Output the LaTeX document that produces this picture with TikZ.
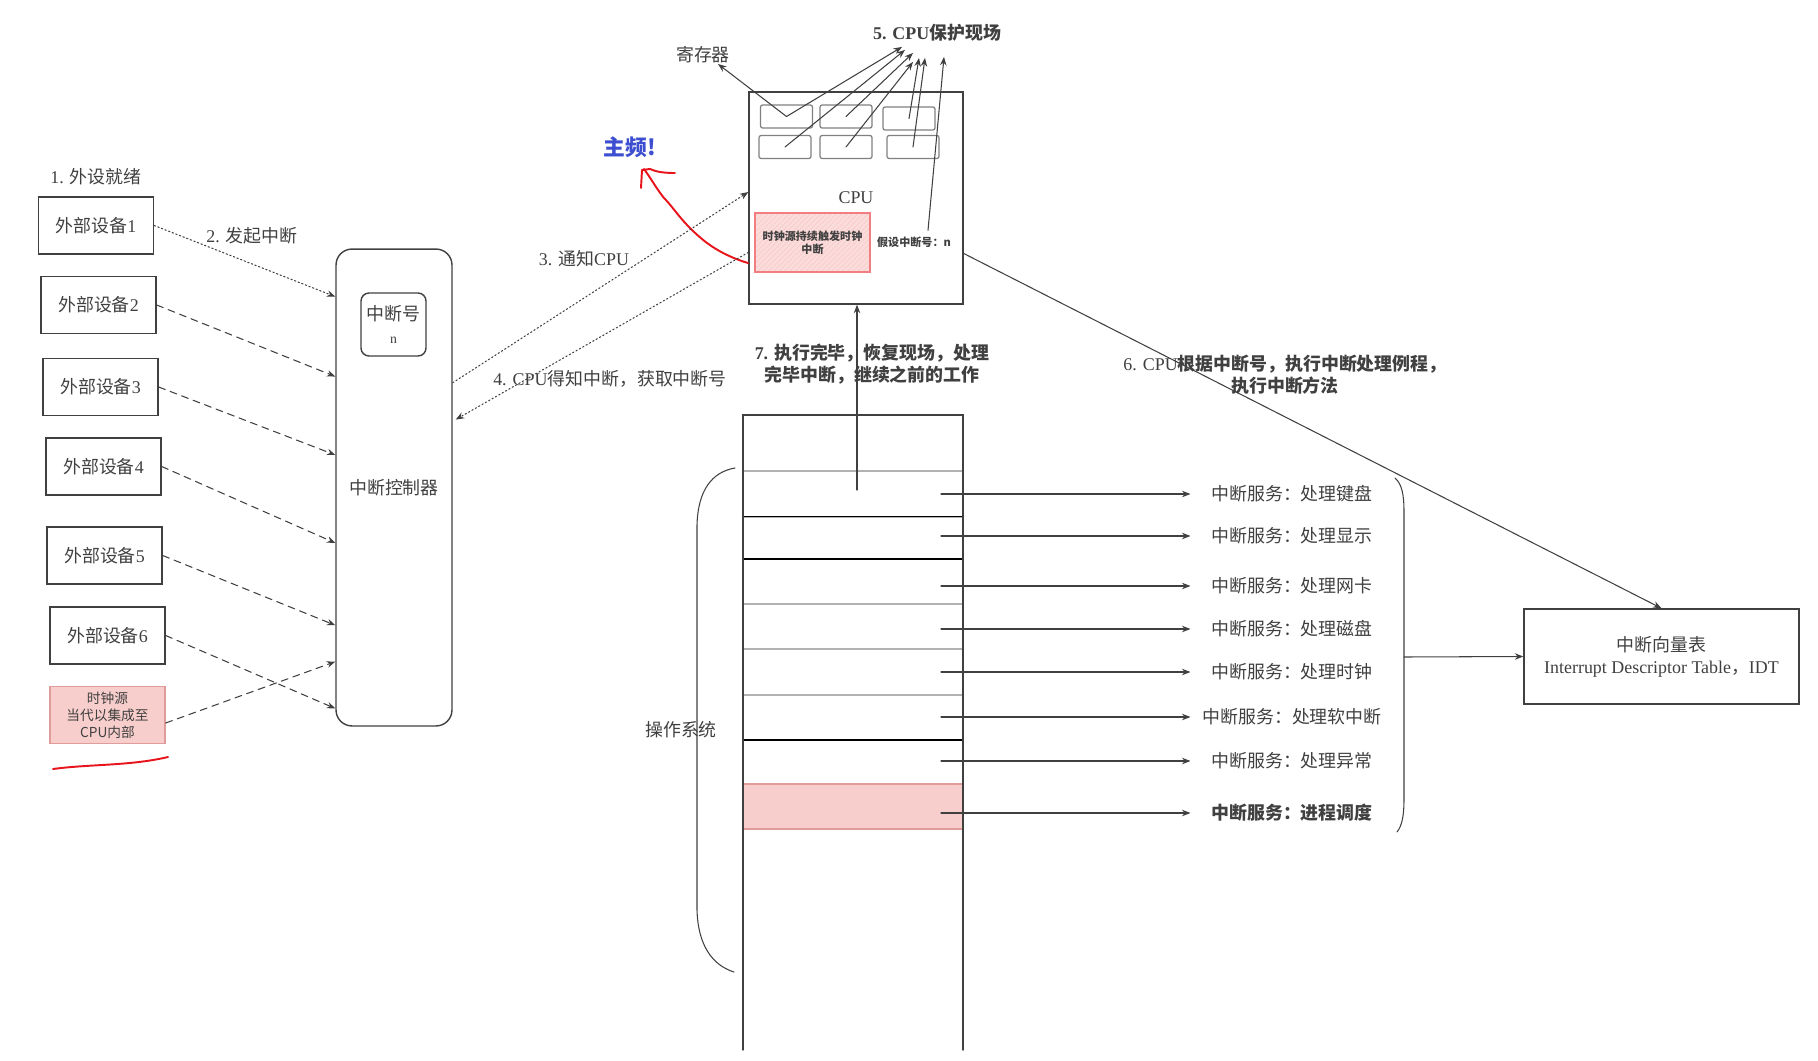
\documentclass[tikz,border=0pt]{standalone}
\usepackage{fontspec}
\setmainfont{Liberation Serif}
\newfontfamily\cjk{Noto Sans CJK SC}
\usetikzlibrary{arrows.meta,calc,patterns}
\tikzset{>={Stealth[length=1.7mm,width=1.3mm]}}
\definecolor{TextGray}{HTML}{333333}
\definecolor{LineGray}{HTML}{404040}
\definecolor{PinkFill}{HTML}{F8CECC}
\definecolor{PinkLine}{HTML}{E09C9A}
\definecolor{PenRed}{HTML}{E8141B}
\definecolor{PenBlue}{HTML}{3D4FD0}
\newcommand\FsNorm{\fontsize{10.2pt}{12.6pt}\selectfont}
\newcommand\FsSmall{\fontsize{7.8pt}{9.6pt}\selectfont}
\newcommand\FsTiny{\fontsize{6.3pt}{7.4pt}\selectfont}
\newcommand\FsBig{\fontsize{12.4pt}{14pt}\selectfont}
\newcommand\zh[1]{{\cjk #1}}
\tikzset{
  DevBox/.style={draw=LineGray, line width=0.8pt, minimum width=2.3cm, minimum height=1.14cm, inner sep=0pt},
  ClockBox/.style={fill=PinkFill, draw=PinkLine, font=\FsSmall\cjk, align=center},
  CtrlBox/.style={draw=LineGray, line width=0.8pt, rounded corners=0.32cm, minimum width=2.32cm, minimum height=9.54cm},
  NumBox/.style={draw=LineGray, line width=0.8pt, rounded corners=0.16cm, minimum width=1.3cm, minimum height=1.26cm, align=center, inner sep=0pt},
  CpuBox/.style={draw=LineGray, line width=0.8pt, minimum width=4.28cm, minimum height=4.24cm},
  RegBox/.style={draw=gray, line width=0.7pt, rounded corners=1.2pt, minimum width=1.04cm, minimum height=0.46cm},
  TickBox/.style={draw=PenRed!55, line width=0.8pt, preaction={fill=PinkFill!70}, pattern=north east lines, pattern color=PenRed!22,
    minimum width=2.3cm, minimum height=1.18cm, align=center, font=\FsTiny\cjk\bfseries},
  IdtBox/.style={draw=LineGray, line width=0.8pt, minimum width=5.5cm, minimum height=1.9cm, align=center},
  RowBox/.style={line width=0.7pt, minimum width=4.4cm, inner sep=0pt},
  SvcText/.style={text width=3.7cm, align=center, inner xsep=0.17cm},
  DotLine/.style={line width=0.6pt, dash pattern=on 0.8pt off 1.4pt},
  DashLine/.style={line width=0.6pt, dash pattern=on 4pt off 3pt},
  RedPen/.style={draw=PenRed, line width=1.1pt, line join=round}
}

\begin{document}
\begin{tikzpicture}[x=0.02cm, y=-0.02cm, line cap=round, color=LineGray, font=\FsNorm, line width=0.6pt]
  \useasboundingbox (0,0) rectangle (1818,1061);

  % devices and controller
  \node (ready) at (96,177) {1. \zh{外设就绪}};
  \foreach \i/\x/\y in {1/96/225.5, 2/98.5/305, 3/100.5/387, 4/103.5/466.5, 5/104.5/555.5, 6/107.5/635.5}
    \node[DevBox] (dev\i) at (\x,\y) {\zh{外部设备}\i};
  \node[DevBox, ClockBox] (clk) at (107.5,715) {时钟源\\当代以集成至\\CPU内部};
  \draw[RedPen] (53,769) .. controls (90,764) and (130,766) .. (168,757);

  \node[CtrlBox] (ctrl) at (394,487.5) {\zh{中断控制器}};
  \node[NumBox] (num) at (393.5,324.5) {\zh{中断号}\\[1pt]{\FsSmall n}};

  \draw[->, DotLine] (dev1.east) -- ($(ctrl.north west)!0.101!(ctrl.south west)$);
  \foreach \i/\f in {2/0.268, 3/0.432, 4/0.616, 5/0.788, 6/0.962}
    \draw[->, DashLine] (dev\i.east) -- ($(ctrl.north west)!\f!(ctrl.south west)$);
  \draw[->, DashLine] ($(clk.east)+(0,8)$) -- ($(ctrl.north west)!0.864!(ctrl.south west)$);
  \node (raise) at (252,236) {2. \zh{发起中断}};

  % cpu
  \node[CpuBox] (cpu) at (856,198) {CPU};
  \foreach \i/\x/\y in {1/786.5/116.5, 2/846/116.5, 3/909/118.5, 4/785/147, 5/846/147, 6/913/147}
    \node[RegBox] (reg\i) at (\x,\y) {};
  \node[TickBox] (tick) at (812.5,242.5) {时钟源持续触发时钟\\中断};
  \node[font=\FsTiny\cjk\bfseries] (irqn) at (914,242) {假设中断号：n};

  \node (regs) at (703,55) {\zh{寄存器}};
  \coordinate (regsTip) at (718,64);
  \draw[->] (reg1.center) -- (regsTip);

  \node[font=\FsNorm\bfseries] (save) at (937,33) {5. CPU\zh{保护现场}};
  \foreach \s/\dx/\dy in {reg1/-35/-1, reg4/-32/2, reg2/-24/5, reg5/-24/14, reg3/-18/10, reg6/-12/10}
    \draw[->] (\s.center) -- ($(save.south)+(\dx,\dy)$);
  \draw[->] ($(irqn.north)+(14,0)$) -- ($(save.south)+(7,9)$);

  \node[font=\FsBig\cjk\bfseries, text=PenBlue] (freq) at (630,147) {主频!};
  \draw[RedPen] (748,263) .. controls (718,254) and (702,240) .. (690,228) .. controls (678,216) and (672,206) .. (664,198)
    .. controls (656,188) and (652,180) .. (644,169);
  \draw[RedPen] (641,188) -- (642,170) -- (650,169) .. controls (655,171) and (660,173) .. (675,173);

  \draw[->, DotLine] ($(ctrl.north east)!0.281!(ctrl.south east)$) -- ($(cpu.north west)!0.472!(cpu.south west)$);
  \node (notify) at (584,259) {3. \zh{通知}CPU};
  \draw[->, DotLine] ($(cpu.north west)!0.755!(cpu.south west)$) -- ($(ctrl.north east)!0.358!(ctrl.south east)+(3,0)$);
  \node (fetch) at (610,379) {4. CPU\zh{得知中断，获取中断号}};

  % operating system stack
  \foreach \i/\ya/\yb/\c in {1/471/517/gray!60, 2/517/559/gray!60, 3/559/604/black, 4/604/649/gray!60,
                             5/649/695/gray!60, 6/695/740/gray!60, 7/740/784/black}
    \node[RowBox, draw=\c] (row\i) at (853,{(\ya+\yb)/2}) [minimum height={(\yb-\ya)*0.02cm}] {};
  \node[RowBox, fill=PinkFill, draw=PinkLine] (row8) at (853,806.5) [minimum height=0.9cm] {};
  \draw[line width=0.7pt, black] (row2.north west) -- (row2.north east);
  \draw[line width=0.8pt] (743,1050) -- (743,415) -- (963,415) -- (963,1050);

  \draw (735,468) .. controls (712,472) and (698,490) .. (697,525) -- (697,910) .. controls (698,945) and (712,965) .. (734,972);
  \node (os) at (681,730) {\zh{操作系统}};

  \coordinate (back) at (857,490);
  \draw[->] (back) -- (back |- cpu.south);
  \node[font=\FsNorm\bfseries, align=center] (resume) at (872,364) {7. \zh{执行完毕，恢复现场，处理}\\\zh{完毕中断，继续之前的工作}};

  % services
  \coordinate (stackX) at (941,0);
  \foreach \i/\y/\t in {1/494/处理键盘, 2/536/处理显示, 3/586/处理网卡, 4/629/处理磁盘, 5/672/处理时钟, 6/717/处理软中断, 7/761/处理异常}{
    \node[SvcText] (svc\i) at (1292,\y) {\zh{中断服务：\t}};
    \draw[->] (svc\i.west -| stackX) -- (svc\i.west);
  }
  \node[SvcText, font=\FsNorm\bfseries] (svc8) at (1292,813) {\zh{中断服务：进程调度}};
  \draw[->] (svc8.west -| stackX) -- (svc8.west);

  \draw (1395,478) .. controls (1402,484) and (1404,495) .. (1404,512) -- (1404,800) .. controls (1404,815) and (1402,826) .. (1397,832);

  % vector table
  \node[IdtBox] (idt) at (1661.5,656.5) {\zh{中断向量表}\\Interrupt Descriptor Table\zh{，}IDT};
  \coordinate (fan) at (1404,657);
  \draw[->] (fan) -- (idt.west);
  \draw[->] ($(cpu.north east)!0.76!(cpu.south east)$) -- (idt.north);
  \node[align=center] (lookup) at (1285,375) {6. CPU{\bfseries\zh{根据中断号，执行中断处理例程，}}\\{\bfseries\zh{执行中断方法}}};
\end{tikzpicture}
\end{document}
